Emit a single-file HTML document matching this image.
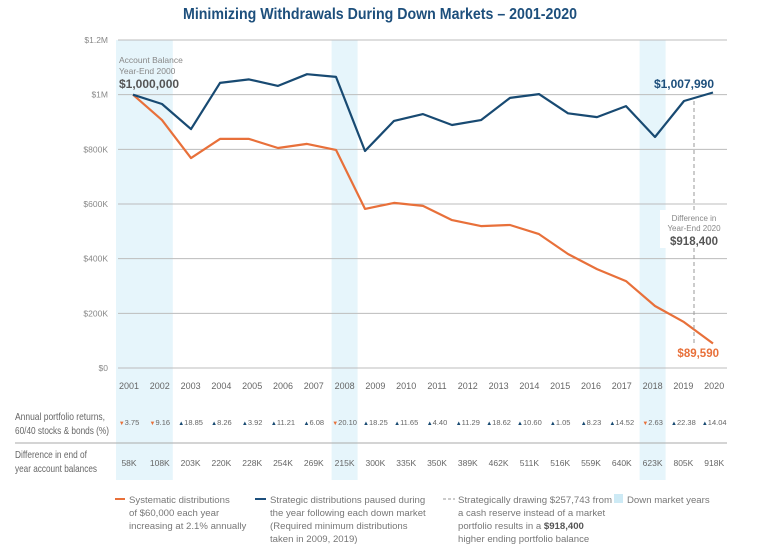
<!DOCTYPE html>
<html><head><meta charset="utf-8"><style>
html,body{margin:0;padding:0;background:#fff;}
svg{display:block;font-family:"Liberation Sans",sans-serif;}
</style></head><body>
<svg id="chart" width="759" height="545" viewBox="0 0 759 545" xmlns="http://www.w3.org/2000/svg">
<text x="183" y="19" textLength="394" lengthAdjust="spacingAndGlyphs" font-weight="bold" font-size="16" fill="#1d4f7c">Minimizing Withdrawals During Down Markets – 2001-2020</text>
<g id="bands"></g>
<g id="grid"></g>
<g id="lines"></g>
<g id="table"></g>
<g>
<text x="119" y="63" font-size="8.5" fill="#888">Account Balance</text>
<text x="119" y="74" font-size="8.5" fill="#888">Year-End 2000</text>
<text x="119" y="88" font-size="12" font-weight="bold" fill="#555">$1,000,000</text>
</g>
<text x="714" y="88" text-anchor="end" font-size="12" font-weight="bold" fill="#1d4f7c">$1,007,990</text>
<g>
<line x1="694" y1="101" x2="694" y2="344" stroke="#999" stroke-dasharray="4,3" stroke-width="1"/>
<rect x="660" y="210" width="68" height="38" fill="#fff"/>
<text x="694" y="221" text-anchor="middle" font-size="8" fill="#888">Difference in</text>
<text x="694" y="231" text-anchor="middle" font-size="8" fill="#888">Year-End 2020</text>
<text x="694" y="245" text-anchor="middle" font-size="11.5" font-weight="bold" fill="#555">$918,400</text>
</g>
<text x="719" y="357" text-anchor="end" font-size="11.5" font-weight="bold" fill="#e8703a">$89,590</text>
<g font-size="10.5" fill="#666">
<text x="15" y="420" textLength="90" lengthAdjust="spacingAndGlyphs">Annual portfolio returns,</text>
<text x="15" y="434" textLength="94" lengthAdjust="spacingAndGlyphs">60/40 stocks &amp; bonds (%)</text>
<text x="15" y="458" textLength="72" lengthAdjust="spacingAndGlyphs">Difference in end of</text>
<text x="15" y="472" textLength="82" lengthAdjust="spacingAndGlyphs">year account balances</text>
</g>
<line x1="15" y1="443" x2="727" y2="443" stroke="#aaa" stroke-width="1"/>
<g font-size="9.6" fill="#777">
<line x1="115" y1="499" x2="125" y2="499" stroke="#e8703a" stroke-width="2"/>
<text x="129" y="503">Systematic distributions</text>
<text x="129" y="516">of $60,000 each year</text>
<text x="129" y="529">increasing at 2.1% annually</text>
<line x1="255" y1="499" x2="266" y2="499" stroke="#1d4f7c" stroke-width="2"/>
<text x="270" y="503">Strategic distributions paused during</text>
<text x="270" y="516">the year following each down market</text>
<text x="270" y="529">(Required minimum distributions</text>
<text x="270" y="542">taken in 2009, 2019)</text>
<line x1="443" y1="499" x2="455" y2="499" stroke="#999" stroke-width="1" stroke-dasharray="3,2"/>
<text x="458" y="503" textLength="154" lengthAdjust="spacingAndGlyphs">Strategically drawing $257,743 from</text>
<text x="458" y="516">a cash reserve instead of a market</text>
<text x="458" y="529">portfolio results in a <tspan font-weight="bold" fill="#555">$918,400</tspan></text>
<text x="458" y="542">higher ending portfolio balance</text>
<rect x="614" y="494" width="9" height="9" fill="#cdeaf5"/>
<text x="627" y="503">Down market years</text>
</g>
</svg>
<script>
const pointYears=[2000,2001,2002,2003,2004,2005,2006,2007,2008,2009,2010,2011,2012,2013,2014,2015,2016,2017,2018,2019,2020];
const strategicValues=[1000000,966000,874000,1043000,1056000,1032000,1075000,1065000,794000,904000,929000,889000,907000,988000,1002000,932000,918000,958000,845000,977000,1007990];
const systematicValues=[1000000,907000,768000,838000,838000,805000,820000,798000,582000,604000,593000,541000,519000,523000,490000,417000,362000,318000,227000,168000,89590];
const tableYears=["2001","2002","2003","2004","2005","2006","2007","2008","2009","2010","2011","2012","2013","2014","2015","2016","2017","2018","2019","2020"];
const returnValues=[-3.75,-9.16,18.85,8.26,3.92,11.21,6.08,-20.10,18.25,11.65,4.40,11.29,18.62,10.60,1.05,8.23,14.52,-2.63,22.38,14.04];
const differenceLabels=["58K","108K","203K","220K","228K","254K","269K","215K","300K","335K","350K","389K","462K","511K","516K","559K","640K","623K","805K","918K"];
const downYears=[2001,2002,2008,2018];
const yTicks=[0,200000,400000,600000,800000,1000000,1200000];
const yTickLabels=["$0","$200K","$400K","$600K","$800K","$1M","$1.2M"];

const NS="http://www.w3.org/2000/svg";
function mk(tag,attrs,parent,txt){const e=document.createElementNS(NS,tag);for(const k in attrs)e.setAttribute(k,attrs[k]);if(txt!==undefined)e.textContent=txt;parent.appendChild(e);return e;}
const X0=118,X1=727,Y0=368,Y1=40;
function y(v){return Y0-(v/1200000)*(Y0-Y1);}
function xp(yr){return 133+(yr-2000)*29;}
function xc(i){return 129+i*30.8;}

const bands=document.getElementById('bands');
const grid=document.getElementById('grid');
const lines=document.getElementById('lines');
const table=document.getElementById('table');

let runs=[];downYears.forEach(d=>{const last=runs[runs.length-1];if(last&&last[1]===d-1)last[1]=d;else runs.push([d,d]);});
runs.forEach(r=>{
  const a=xc(tableYears.indexOf(String(r[0])))-13,b=xc(tableYears.indexOf(String(r[1])))+13;
  const el=mk('rect',{x:a,y:Y1,width:b-a,height:480-Y1,fill:'#e6f5fb'},bands);
  
  
});

yTicks.forEach((t,i)=>{
  const l=mk('line',{x1:X0,x2:X1,y1:y(t),y2:y(t),stroke:'#bcbcbc','stroke-width':1},grid);
  
  
  const tx=mk('text',{x:108,y:y(t)+3,'text-anchor':'end','font-size':8.5,fill:'#888'},grid,yTickLabels[i]);
  
  
});

function path(vals){return vals.map((v,i)=>(i?'L':'M')+xp(pointYears[i]).toFixed(1)+','+y(v).toFixed(1)).join(' ');}
const po=mk('path',{d:path(systematicValues),fill:'none',stroke:'#e8703a','stroke-width':2.2,'stroke-linejoin':'round'},lines);


const pb=mk('path',{d:path(strategicValues),fill:'none',stroke:'#184a72','stroke-width':2.2,'stroke-linejoin':'round'},lines);



tableYears.forEach((yr,i)=>{
  const cx=xc(i);
  const t=mk('text',{x:cx,y:389,'text-anchor':'middle','font-size':9,fill:'#666'},table,yr);
  
  
  const r=returnValues[i];const up=r>=0;
  const g=mk('text',{x:cx,y:425,'text-anchor':'middle','font-size':7.5,fill:'#666'},table);
  
  
  mk('tspan',{fill:up?'#184a72':'#e8703a','font-size':6},g,up?'▲':'▼');
  mk('tspan',{},g,Math.abs(r).toFixed(2));
  const d=mk('text',{x:cx,y:466,'text-anchor':'middle','font-size':8.5,fill:'#666'},table,differenceLabels[i]);
  
  
});
</script>
</body></html>
